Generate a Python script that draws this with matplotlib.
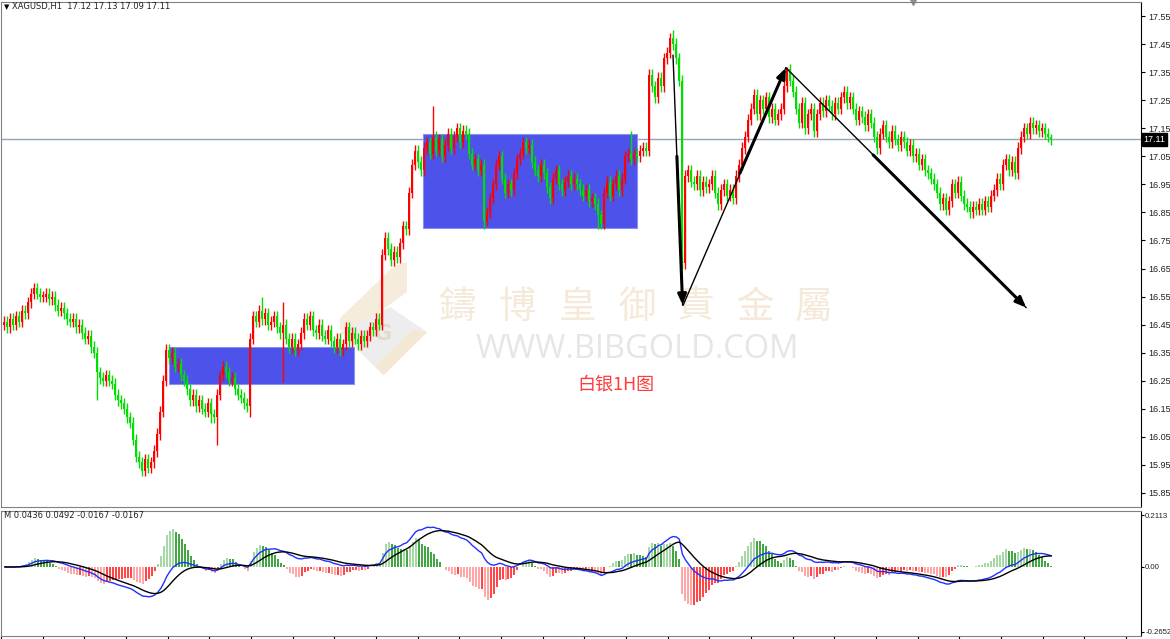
import matplotlib.pyplot as plt
import matplotlib.transforms as mtransforms
import numpy as np
import pandas as pd
from matplotlib.patches import Rectangle, Polygon

# XAGUSD H1 closes (one per bar, left to right)
closes = [
    16.46, 16.44, 16.47, 16.45, 16.48, 16.46, 16.50, 16.49, 16.53, 16.56,
    16.58, 16.56, 16.55, 16.55, 16.56, 16.54, 16.55, 16.52, 16.50, 16.51,
    16.49, 16.47, 16.46, 16.47, 16.44, 16.45, 16.42, 16.40, 16.41, 16.37,
    16.35, 16.28, 16.26, 16.25, 16.27, 16.25, 16.24, 16.20, 16.18, 16.17,
    16.15, 16.12, 16.10, 16.04, 15.98, 15.96, 15.93, 15.97, 15.94, 15.96,
    16.00, 16.06, 16.14, 16.25, 16.36, 16.33, 16.35, 16.30, 16.31, 16.27,
    16.25, 16.22, 16.18, 16.20, 16.16, 16.18, 16.15, 16.14, 16.17, 16.13,
    16.12, 16.20, 16.27, 16.30, 16.28, 16.25, 16.26, 16.22, 16.20, 16.19,
    16.17, 16.16, 16.40, 16.48, 16.46, 16.50, 16.47, 16.49, 16.45, 16.46,
    16.48, 16.44, 16.42, 16.45, 16.40, 16.37, 16.40, 16.36, 16.38, 16.42,
    16.47, 16.45, 16.48, 16.43, 16.42, 16.45, 16.41, 16.40, 16.43, 16.39,
    16.37, 16.40, 16.36, 16.38, 16.44, 16.39, 16.42, 16.40, 16.38, 16.41,
    16.39, 16.41, 16.44, 16.43, 16.47, 16.45, 16.70, 16.76, 16.72, 16.68,
    16.71, 16.69, 16.74, 16.80, 16.79, 16.92, 17.02, 17.07, 17.03, 17.00,
    17.08, 17.10, 17.06, 17.12, 17.07, 17.11, 17.05, 17.09, 17.13, 17.08,
    17.12, 17.15, 17.10, 17.14, 17.13, 17.06, 17.02, 17.04, 17.00, 17.02,
    16.82, 16.85, 16.90, 16.95, 17.02, 17.05, 16.97, 16.92, 16.95, 16.93,
    16.99, 17.04, 17.06, 17.10, 17.08, 17.09, 17.03, 17.00, 16.98, 17.02,
    16.99, 16.94, 16.90, 16.97, 17.00, 16.95, 16.93, 16.96, 16.98, 16.95,
    16.97, 16.95, 16.93, 16.91, 16.93, 16.89, 16.90, 16.88, 16.84, 16.81,
    16.92, 16.96, 16.91, 16.95, 16.98, 16.93, 16.97, 17.05, 17.06, 17.04,
    17.06, 17.05, 17.07, 17.08, 17.07, 17.34, 17.30, 17.26, 17.33, 17.30,
    17.40, 17.42, 17.47, 17.45, 17.40, 17.32, 16.67, 16.98, 17.00, 16.96,
    16.95, 16.98, 16.93, 16.96, 16.94, 16.95, 16.98, 16.92, 16.88, 16.93,
    16.95, 16.91, 16.93, 16.90, 16.98, 17.02, 17.08, 17.12, 17.18, 17.22,
    17.27, 17.20, 17.25, 17.22, 17.26, 17.19, 17.22, 17.18, 17.20, 17.22,
    17.30, 17.36, 17.32, 17.28, 17.22, 17.17, 17.24, 17.15, 17.20, 17.22,
    17.14, 17.20, 17.24, 17.21, 17.25, 17.23, 17.20, 17.24, 17.22, 17.26,
    17.28, 17.24, 17.26, 17.22, 17.18, 17.21, 17.19, 17.16, 17.20, 17.17,
    17.12, 17.08, 17.13, 17.16, 17.12, 17.10, 17.14, 17.11, 17.09, 17.12,
    17.10, 17.07, 17.09, 17.05, 17.06, 17.02, 17.04, 17.00, 16.99, 16.97,
    16.95, 16.92, 16.88, 16.90, 16.86, 16.89, 16.95, 16.92, 16.96, 16.91,
    16.88, 16.87, 16.85, 16.87, 16.86, 16.88, 16.86, 16.89, 16.87, 16.91,
    16.93, 16.97, 16.95, 17.02, 17.04, 17.00, 17.03, 16.99, 17.08, 17.12,
    17.15, 17.13, 17.17, 17.15, 17.16, 17.14, 17.15, 17.13, 17.12, 17.11,
]
first_open = 16.45
# long wicks that stand out on the chart: bar -> extreme
spike_highs = {10: 16.60, 86: 16.55, 93: 16.53, 143: 17.23, 209: 17.14,
               223: 17.50, 261: 17.37, 349: 17.13}
spike_lows = {31: 16.18, 47: 15.91, 69: 16.10, 71: 16.02, 82: 16.12,
              93: 16.245, 160: 16.79, 198: 16.79, 226: 16.65, 349: 17.09}

price_ticks = [17.55, 17.45, 17.35, 17.25, 17.15, 17.05, 16.95, 16.85, 16.75,
               16.65, 16.55, 16.45, 16.35, 16.25, 16.15, 16.05, 15.95, 15.85]
last_price = 17.11
macd_ticks = [0.2113, 0.0, -0.2652]
macd_tick_labels = ['0.2113', '0.00', '-0.2652']

# boxes: (bar from, bar to, low, high)
boxes = [(55.0, 116.7, 16.237, 16.37), (139.7, 211.0, 16.795, 17.13)]
# arrows: thin line start/end, thick part start
arrows = [((223.0, 17.41), (226.2, 16.52), (224.3, 17.05)),
          ((226.4, 16.52), (260.6, 17.365), (245.3, 16.99)),
          ((260.7, 17.365), (340.7, 16.511), (289.7, 17.055))]

W, H = 1170, 639
fig = plt.figure(figsize=(W / 100, H / 100), dpi=100)
axis_font = ['Liberation Sans Narrow', 'Liberation Sans', 'DejaVu Sans']


def fx(x):
    return x / W


def fy(y):
    return 1 - y / H


ax = fig.add_axes([fx(1), fy(507), fx(1140), (507 - 2) / H])
ax2 = fig.add_axes([fx(1), fy(636), fx(1140), (636 - 511) / H])

n = len(closes)
idx = np.arange(n)
c = np.array(closes)
o = np.concatenate([[first_open], c[:-1]])
hi = np.maximum(o, c) + 0.02
lo = np.minimum(o, c) - 0.02
for k, v in spike_highs.items():
    hi[k] = v
for k, v in spike_lows.items():
    lo[k] = v

up = c >= o
col = np.where(up, '#ff0000', '#00e000')
ax.vlines(idx, lo, hi, colors=col, lw=1, zorder=3)
body = np.maximum(np.abs(c - o), 0.004)
ax.bar(idx, body, bottom=np.minimum(o, c), width=0.66, color=col, lw=0, zorder=4)

for x0, x1, b, t in boxes:
    ax.add_patch(Rectangle((x0, b), x1 - x0, t - b, facecolor='#4d52ea',
                           edgecolor='#8890f0', lw=0.8, zorder=2))

ax.axhline(last_price, color='#94a4b4', lw=1, zorder=1)

for (xa, ya), (xb, yb), (xt, yt) in arrows:
    ax.plot([xa, xb], [ya, yb], color='black', lw=1, zorder=6)
    ax.annotate('', xy=(xb, yb), xytext=(xt, yt),
                arrowprops=dict(arrowstyle='-|>,head_length=0.6,head_width=0.25',
                                color='black', lw=2.2, shrinkA=0, shrinkB=0),
                zorder=6)

ax.set_xlim(-1, 379)
ax.set_ylim(15.80, 17.60)
ax.yaxis.tick_right()
ax.set_yticks(price_ticks)
ax.set_yticklabels([f'{v:.2f}' for v in price_ticks], family=axis_font)
ax.tick_params(axis='y', length=3, width=0.8, pad=2, labelsize=6.5,
               labelcolor='#202020')
ax.set_xticks([])
for s in ['left', 'top', 'bottom']:
    ax.spines[s].set_color('#808080')
ax.spines['right'].set_color('black')

trans = mtransforms.blended_transform_factory(ax.transAxes, ax.transData)
ax.text(1.0022, last_price, f'{last_price:.2f}', transform=trans, color='white',
        fontsize=6.5, va='center', ha='left', zorder=10, family=axis_font,
        bbox=dict(boxstyle='square,pad=0.2', fc='black', ec='black'))
ax.plot([0.8], [1.0], marker='v', color='#909090', ms=5, transform=ax.transAxes,
        clip_on=False)

# MACD panel
s = pd.Series(closes)
dif = s.ewm(span=12, adjust=False).mean() - s.ewm(span=26, adjust=False).mean()
dea = dif.ewm(span=9, adjust=False).mean()
hist = (2.8 * (dif - dea)).values
prev = np.concatenate([[0], hist[:-1]])
hcol = []
for h, p in zip(hist, prev):
    if h >= 0:
        hcol.append('#8ccc8c' if h >= p else '#0a8a0a')
    else:
        hcol.append('#ff8c8c' if h < p else '#ff1010')
ax2.vlines(idx, 0, hist, colors=hcol, lw=1.1)
ax2.plot(idx, dif.values, color='#2030ff', lw=1)
ax2.plot(idx, dea.values, color='black', lw=1)
ax2.set_xlim(-1, 379)
ax2.set_ylim(-0.282, 0.228)
ax2.yaxis.tick_right()
ax2.set_yticks(macd_ticks)
ax2.set_yticklabels(macd_tick_labels, family=axis_font)
ax2.tick_params(axis='y', length=2, width=0.8, pad=1, labelsize=5.6,
                labelcolor='#202020')
ax2.set_xticks(np.arange(-1.3, 379, 13.9))
ax2.set_xticklabels([])
ax2.tick_params(axis='x', length=3, width=0.8, direction='out')
for sp in ['left', 'top', 'bottom']:
    ax2.spines[sp].set_color('#808080')
ax2.spines['right'].set_color('black')

# header texts
fig.text(fx(4), fy(7), '\u25bc', fontsize=5, va='center', ha='left')
fig.text(fx(12), fy(7), 'XAGUSD,H1  17.12 17.13 17.09 17.11', fontsize=6,
         va='center', ha='left', color='#202020')
fig.text(fx(4), fy(516), 'M 0.0436 0.0492 -0.0167 -0.0167', fontsize=6,
         va='center', ha='left', color='#202020')

# watermark logo
logo_parts = [
    ([(395, 265), (407, 262), (407, 292), (355, 330), (340, 330), (340, 318)],
     '#f6ecdc'),
    ([(340, 332), (390, 307), (427, 332), (383, 375)], '#ededed'),
    ([(412, 330), (427, 332), (384, 375), (376, 366)], '#f4e8d4'),
]
for pts, colr in logo_parts:
    fig.patches.append(Polygon([(fx(a), fy(b)) for a, b in pts], closed=True,
                               transform=fig.transFigure, fc=colr, ec='none',
                               zorder=0.5))
fig.text(fx(383), fy(334), 'G', fontsize=16, fontweight='bold', color='#e4dacb',
         ha='center', va='center', zorder=0.6)

for ch, x in zip('鑄博皇御貴金屬', [457, 517, 577, 637, 696, 756, 813]):
    fig.text(fx(x), fy(307), ch, fontsize=27, color='#f5e9d9', ha='center',
             va='center', family=['Noto Sans CJK TC'], zorder=0.6)
fig.text(fx(637), fy(349), 'WWW.BIBGOLD.COM', fontsize=23.5, color='#e6e6e6',
         ha='center', va='center', family='Open Sans', zorder=0.6)

fig.text(fx(616), fy(385), '白银1H图', fontsize=13, color='#ff3b3b',
         ha='center', va='center', family=['Noto Sans CJK SC', 'DejaVu Sans'])

ax.set_zorder(1)
ax.patch.set_alpha(0)

fig.savefig('out.png', dpi=100)
